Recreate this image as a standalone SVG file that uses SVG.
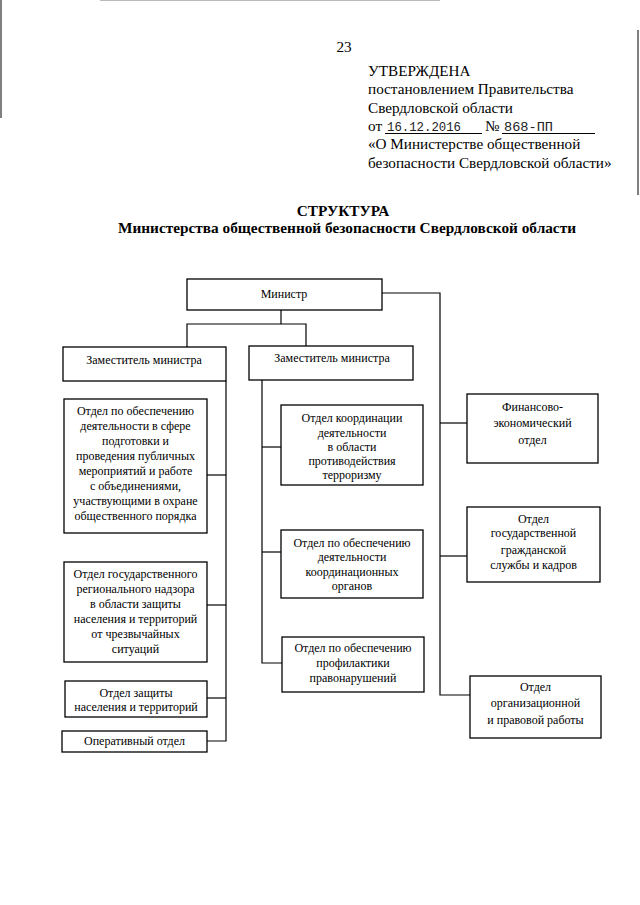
<svg xmlns="http://www.w3.org/2000/svg" width="640" height="905" viewBox="0 0 640 905">
<style>
  .hdr { font-family: "Liberation Serif", "Times New Roman", serif; font-size: 15.2px; fill: #000; }
  .mono { font-family: "Liberation Mono", "Courier New", monospace; font-size: 13px; fill: #222; }
  .title { font-family: "Liberation Serif", "Times New Roman", serif; font-size: 15.3px; font-weight: bold; fill: #000; text-anchor: middle; }
  .box rect { fill: #fff; stroke: #000; stroke-width: 1.3; }
  .box text { font-family: "Liberation Serif", "Times New Roman", serif; font-size: 12px; fill: #000; text-anchor: middle; }
  .conn { fill: none; stroke: #000; stroke-width: 1.2; }
  .scan { stroke: #555; stroke-width: 1.5; }
</style>

<!-- scan edges -->
<g id="scan-edges">
  <line class="scan" x1="1" y1="0" x2="1" y2="118"/>
  <line class="scan" x1="638" y1="30" x2="638" y2="195"/>
  <line x1="100" y1="0.5" x2="440" y2="0.5" stroke="#bbb" stroke-width="1.2"/>
</g>

<!-- header -->
<g id="header">
  <text class="hdr" x="344" y="52" text-anchor="middle">23</text>
  <text class="hdr" x="368" y="76">УТВЕРЖДЕНА</text>
  <text class="hdr" x="368" y="94">постановлением Правительства</text>
  <text class="hdr" x="368" y="113">Свердловской области</text>
  <text class="hdr" x="368" y="131">от</text>
  <text class="mono" x="387" y="131" textLength="74" lengthAdjust="spacingAndGlyphs">16.12.2016</text>
  <line x1="385" y1="133.5" x2="482" y2="133.5" stroke="#000" stroke-width="1"/>
  <text class="hdr" x="485" y="131">№</text>
  <text class="mono" x="504" y="131" textLength="49" lengthAdjust="spacingAndGlyphs">868-ПП</text>
  <line x1="502" y1="133.5" x2="595" y2="133.5" stroke="#000" stroke-width="1"/>
  <text class="hdr" x="368" y="149">«О Министерстве общественной</text>
  <text class="hdr" x="368" y="168">безопасности Свердловской области»</text>
</g>

<g id="title">
  <text class="title" x="343" y="216">СТРУКТУРА</text>
  <text class="title" x="347" y="233">Министерства общественной безопасности Свердловской области</text>
</g>

<!-- connectors -->
<g id="connectors">
  <polyline class="conn" points="281,310 281,324"/>
  <polyline class="conn" points="187,347 187,324 306,324 306,346"/>
  <polyline class="conn" points="382,293 440,293 440,695 470,695"/>
  <polyline class="conn" points="440,423 467,423"/>
  <polyline class="conn" points="440,556 467,556"/>
  <polyline class="conn" points="226,381 226,741 207,741"/>
  <polyline class="conn" points="207,475 226,475"/>
  <polyline class="conn" points="207,605 226,605"/>
  <polyline class="conn" points="207,698 226,698"/>
  <polyline class="conn" points="262,380 262,663 282,663"/>
  <polyline class="conn" points="262,447 281,447"/>
  <polyline class="conn" points="262,552 281,552"/>
</g>

<g id="minister" class="box">
  <rect x="187" y="279" width="195" height="31"/>
  <text x="284" y="298">Министр</text>
</g>

<g id="deputy1" class="box">
  <rect x="63" y="347" width="163" height="34"/>
  <text x="144" y="364">Заместитель министра</text>
</g>

<g id="deputy2" class="box">
  <rect x="249" y="346" width="164" height="34"/>
  <text x="332" y="362">Заместитель министра</text>
</g>

<g id="dept-public-events" class="box">
  <rect x="64" y="399" width="143" height="134"/>
  <text x="135.5" y="415">Отдел по обеспечению</text>
  <text x="135.5" y="430">деятельности в сфере</text>
  <text x="135.5" y="445">подготовки и</text>
  <text x="135.5" y="460">проведения публичных</text>
  <text x="135.5" y="475">мероприятий и работе</text>
  <text x="135.5" y="490">с объединениями,</text>
  <text x="135.5" y="505">участвующими в охране</text>
  <text x="135.5" y="520">общественного порядка</text>
</g>

<g id="dept-supervision" class="box">
  <rect x="64" y="562" width="143" height="100"/>
  <text x="135.5" y="578">Отдел государственного</text>
  <text x="135.5" y="593">регионального надзора</text>
  <text x="135.5" y="608">в области защиты</text>
  <text x="135.5" y="623">населения и территорий</text>
  <text x="135.5" y="638">от чрезвычайных</text>
  <text x="135.5" y="653">ситуаций</text>
</g>

<g id="dept-protection" class="box">
  <rect x="65" y="681" width="142" height="36"/>
  <text x="136" y="697">Отдел защиты</text>
  <text x="136" y="711">населения и территорий</text>
</g>

<g id="dept-operative" class="box">
  <rect x="62" y="731" width="145" height="21"/>
  <text x="134.5" y="745">Оперативный отдел</text>
</g>

<g id="dept-terrorism" class="box">
  <rect x="281" y="405" width="142" height="80"/>
  <text x="352" y="422">Отдел координации</text>
  <text x="352" y="437">деятельности</text>
  <text x="352" y="451">в области</text>
  <text x="352" y="465">противодействия</text>
  <text x="352" y="479">терроризму</text>
</g>

<g id="dept-coord-bodies" class="box">
  <rect x="281" y="530" width="142" height="68"/>
  <text x="352" y="547">Отдел по обеспечению</text>
  <text x="352" y="561">деятельности</text>
  <text x="352" y="576">координационных</text>
  <text x="352" y="590">органов</text>
</g>

<g id="dept-prevention" class="box">
  <rect x="282" y="637" width="142" height="55"/>
  <text x="353" y="652">Отдел по обеспечению</text>
  <text x="353" y="667">профилактики</text>
  <text x="353" y="682">правонарушений</text>
</g>

<g id="dept-finance" class="box">
  <rect x="467" y="394" width="131" height="69"/>
  <text x="532.5" y="411">Финансово-</text>
  <text x="532.5" y="427">экономический</text>
  <text x="532.5" y="444">отдел</text>
</g>

<g id="dept-personnel" class="box">
  <rect x="467" y="507" width="133" height="75"/>
  <text x="533.5" y="523">Отдел</text>
  <text x="533.5" y="537">государственной</text>
  <text x="533.5" y="554">гражданской</text>
  <text x="533.5" y="569">службы и кадров</text>
</g>

<g id="dept-legal" class="box">
  <rect x="470" y="676" width="131" height="62"/>
  <text x="535.5" y="691">Отдел</text>
  <text x="535.5" y="707">организационной</text>
  <text x="535.5" y="724">и правовой работы</text>
</g>
</svg>
